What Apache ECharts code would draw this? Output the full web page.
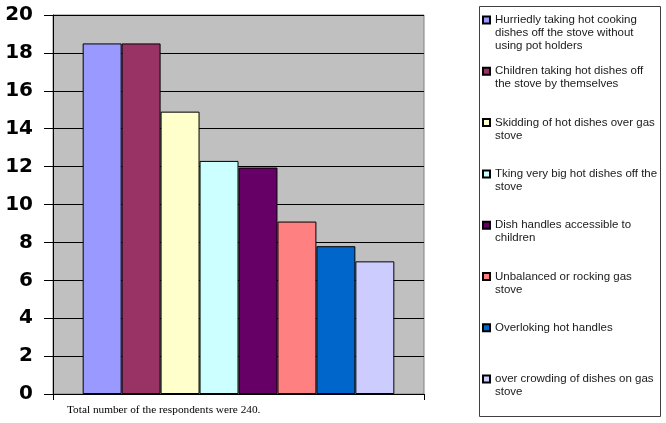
<!DOCTYPE html>
<html>
<head>
<meta charset="utf-8">
<script src="https://cdn.jsdelivr.net/npm/echarts@6/dist/echarts.min.js"></script>
<style>
  html, body { margin: 0; padding: 0; background: #fff; }
  #main { width: 666px; height: 423px; }
</style>
</head>
<body>
<div id="main"></div>
<script>
// causes of burns, % of respondents
const causes = [
  "Hurriedly taking hot cooking\ndishes off the stove without\nusing pot holders",
  "Children taking hot dishes off\nthe stove by themselves",
  "Skidding of hot dishes over gas\nstove",
  "Tking very big hot dishes off the\nstove",
  "Dish handles accessible to\nchildren",
  "Unbalanced or rocking gas\nstove",
  "Overloking hot handles",
  "over crowding of dishes on gas\nstove"
];
const values = [18.5, 18.5, 14.9, 12.3, 11.95, 9.1, 7.8, 7.0];
const colors = ["#9999FF", "#993366", "#FFFFCC", "#CCFFFF", "#660066", "#FF8080", "#0066CC", "#CCCCFF"];
const yTicks = { min: 0, max: 20, step: 2 };
const note = "Total number of the respondents were 240.";

let myChart = echarts.init(document.getElementById("main"));

// legend text is centred on the swatch, so blank lines are put in front
// to bring the first real line next to the swatch; padding evens out item heights
const lineH = 13;
const itemBox = 65;
function nLines(name) {
  return name.split("\n").length;
}
let legendData = causes.map((name) => {
  let n = nLines(name);
  let p = (itemBox - (2 * n - 1) * lineH) / 2;
  return {
    name: name,
    textStyle: { padding: [p, 0, p, 0] },
  };
});

let series = causes.map((name, i) => ({
  name: name,
  type: "bar",
  data: [values[i]],
  barGap: 0,
  barCategoryGap: "16%",
  itemStyle: { color: colors[i], borderColor: "#000", borderWidth: 1 },
}));

var option = {
  animation: false,
  title: {
    text: note,
    left: 67,
    top: 405,
    padding: 0,
    textStyle: {
      fontFamily: "Liberation Serif",
      fontSize: 11.3,
      fontWeight: "normal",
      color: "#000",
    },
  },
  graphic: [
    {
      type: "rect",
      z: -1,
      shape: { x: 479.5, y: 6.5, width: 181, height: 410 },
      style: { fill: "#fff", stroke: "#404040", lineWidth: 1 },
    },
  ],
  legend: {
    orient: "vertical",
    left: 482,
    top: -12.5,
    height: 460,
    padding: 0,
    itemGap: -13.7,
    itemWidth: 7,
    itemHeight: 7,
    icon: "rect",
    selectedMode: false,
    data: legendData,
    formatter: function (name) {
      return "\n".repeat(nLines(name) - 1) + name;
    },
    textStyle: {
      fontFamily: "Liberation Sans",
      fontSize: 11.5,
      lineHeight: lineH,
      color: "#1a1a1a",
    },
  },
  grid: {
    left: 53,
    right: 242,
    top: 15,
    bottom: 29,
    show: true,
    backgroundColor: "#C0C0C0",
    borderColor: "#808080",
    borderWidth: 1,
  },
  xAxis: {
    type: "category",
    data: [""],
    axisLine: { lineStyle: { color: "#000", width: 1 } },
    axisTick: { show: true, length: 6, lineStyle: { color: "#000" } },
    axisLabel: { show: false },
  },
  yAxis: {
    type: "value",
    min: yTicks.min,
    max: yTicks.max,
    interval: yTicks.step,
    axisLine: { show: true, lineStyle: { color: "#000", width: 1 } },
    axisTick: { show: true, length: 9, lineStyle: { color: "#000" } },
    splitLine: { show: true, lineStyle: { color: "#000", width: 1 } },
    axisLabel: {
      margin: 20,
      color: "#000",
      fontFamily: "DejaVu Sans",
      fontWeight: "bold",
      fontSize: 20,
    },
  },
  series: series,
};

myChart.setOption(option);
</script>
</body>
</html>
